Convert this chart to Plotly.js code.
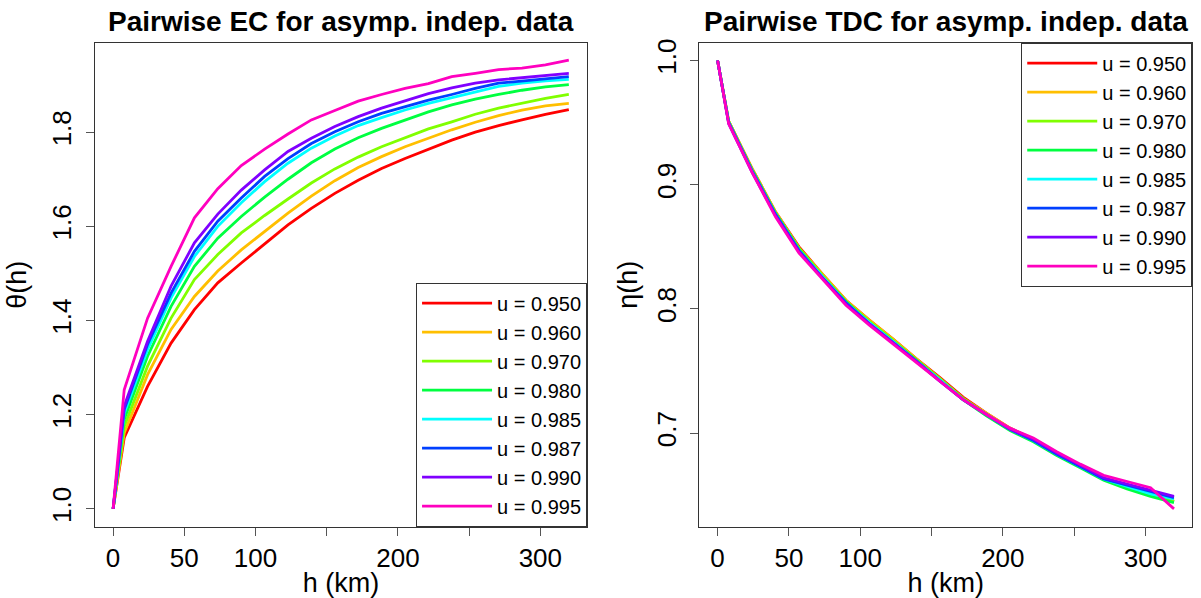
<!DOCTYPE html>
<html>
<head>
<meta charset="utf-8">
<script src="https://cdn.plot.ly/plotly-3.0.1.min.js"></script>
<style>html,body{margin:0;padding:0;background:#fff;}#chart{width:1201px;height:598px;}</style>
</head>
<body>
<div id="chart"></div>
<script>
// distance bins (km)
const h = [0, 7.8, 24.2, 40.7, 57.1, 73.5, 90, 106.4, 122.8, 139.2, 155.7, 172.1, 188.5, 205, 221.4, 237.8, 254.3, 270.7, 287.1, 303.6, 320];

const seriesNames = ["u = 0.950", "u = 0.960", "u = 0.970", "u = 0.980", "u = 0.985", "u = 0.987", "u = 0.990", "u = 0.995"];
const seriesColors = ["#FF0000", "#FFBF00", "#80FF00", "#00FF40", "#00FFFF", "#0040FF", "#8000FF", "#FF00BF"];

// Pairwise extremal coefficient theta(h)
const ec_u950 = [1.0, 1.151, 1.260, 1.352, 1.423, 1.480, 1.522, 1.562, 1.603, 1.638, 1.670, 1.698, 1.723, 1.744, 1.764, 1.783, 1.800, 1.814, 1.826, 1.838, 1.848];
const ec_u960 = [1.0, 1.161, 1.285, 1.381, 1.451, 1.505, 1.550, 1.589, 1.628, 1.664, 1.697, 1.725, 1.748, 1.769, 1.787, 1.805, 1.821, 1.835, 1.847, 1.856, 1.861];
const ec_u970 = [1.0, 1.175, 1.303, 1.405, 1.487, 1.540, 1.586, 1.623, 1.658, 1.692, 1.722, 1.747, 1.769, 1.788, 1.807, 1.822, 1.838, 1.851, 1.861, 1.872, 1.880];
const ec_u980 = [1.0, 1.190, 1.324, 1.430, 1.515, 1.575, 1.621, 1.662, 1.700, 1.735, 1.764, 1.788, 1.808, 1.826, 1.843, 1.858, 1.870, 1.880, 1.889, 1.896, 1.901];
const ec_u985 = [1.0, 1.203, 1.338, 1.448, 1.536, 1.600, 1.650, 1.695, 1.734, 1.766, 1.792, 1.814, 1.831, 1.847, 1.861, 1.873, 1.886, 1.897, 1.904, 1.909, 1.912];
const ec_u987 = [1.0, 1.211, 1.349, 1.458, 1.547, 1.611, 1.660, 1.706, 1.744, 1.776, 1.801, 1.822, 1.840, 1.854, 1.868, 1.880, 1.893, 1.904, 1.909, 1.914, 1.918];
const ec_u990 = [1.0, 1.218, 1.356, 1.473, 1.565, 1.626, 1.677, 1.720, 1.759, 1.787, 1.812, 1.833, 1.851, 1.866, 1.882, 1.894, 1.904, 1.911, 1.916, 1.921, 1.925];
const ec_u995 = [1.0, 1.253, 1.405, 1.515, 1.618, 1.680, 1.729, 1.764, 1.796, 1.826, 1.846, 1.866, 1.880, 1.893, 1.903, 1.918, 1.925, 1.933, 1.936, 1.943, 1.953];

// Pairwise tail dependence coefficient eta(h)
const tdc_u950 = [1.0, 0.951, 0.913, 0.878, 0.850, 0.828, 0.807, 0.791, 0.776, 0.760, 0.745, 0.729, 0.716, 0.704, 0.695, 0.684, 0.674, 0.663, 0.657, 0.651, 0.645];
const tdc_u960 = [1.0, 0.951, 0.913, 0.878, 0.849, 0.828, 0.807, 0.791, 0.776, 0.760, 0.744, 0.728, 0.716, 0.704, 0.695, 0.684, 0.674, 0.663, 0.657, 0.651, 0.646];
const tdc_u970 = [1.0, 0.951, 0.912, 0.877, 0.849, 0.827, 0.806, 0.790, 0.775, 0.759, 0.744, 0.728, 0.715, 0.703, 0.694, 0.683, 0.673, 0.663, 0.656, 0.650, 0.645];
const tdc_u980 = [1.0, 0.950, 0.912, 0.877, 0.848, 0.826, 0.806, 0.789, 0.774, 0.759, 0.743, 0.727, 0.714, 0.702, 0.693, 0.682, 0.672, 0.662, 0.655, 0.649, 0.644];
const tdc_u985 = [1.0, 0.950, 0.911, 0.876, 0.847, 0.826, 0.805, 0.789, 0.774, 0.758, 0.743, 0.727, 0.715, 0.703, 0.694, 0.683, 0.673, 0.663, 0.657, 0.651, 0.647];
const tdc_u987 = [1.0, 0.950, 0.911, 0.876, 0.847, 0.825, 0.805, 0.788, 0.773, 0.758, 0.742, 0.727, 0.715, 0.703, 0.694, 0.683, 0.673, 0.663, 0.658, 0.653, 0.648];
const tdc_u990 = [1.0, 0.949, 0.910, 0.875, 0.846, 0.825, 0.804, 0.788, 0.773, 0.758, 0.742, 0.727, 0.715, 0.703, 0.695, 0.684, 0.674, 0.664, 0.659, 0.654, 0.649];
const tdc_u995 = [1.0, 0.949, 0.910, 0.874, 0.845, 0.824, 0.803, 0.787, 0.772, 0.757, 0.742, 0.727, 0.715, 0.704, 0.696, 0.685, 0.675, 0.666, 0.661, 0.656, 0.639];

const xTickVals = [0, 50, 100, 150, 200, 250, 300];
const xTickText = ["0", "50", "100", "", "200", "", "300"];
const ecTickVals = [1.0, 1.2, 1.4, 1.6, 1.8];
const ecTickText = ["1.0", "1.2", "1.4", "1.6", "1.8"];
const tdcTickVals = [0.7, 0.8, 0.9, 1.0];
const tdcTickText = ["0.7", "0.8", "0.9", "1.0"];

const leftTitle = "Pairwise EC for asymp. indep. data";
const rightTitle = "Pairwise TDC for asymp. indep. data";
const xLabel = "h (km)";
const ecLabel = "θ(h)";
const tdcLabel = "η(h)";

const ecSeries = [ec_u950, ec_u960, ec_u970, ec_u980, ec_u985, ec_u987, ec_u990, ec_u995];
const tdcSeries = [tdc_u950, tdc_u960, tdc_u970, tdc_u980, tdc_u985, tdc_u987, tdc_u990, tdc_u995];

const FONT = "Liberation Sans, Arial, Helvetica, sans-serif";
const traces = [];
ecSeries.forEach((ys, i) => {
  traces.push({x: h, y: ys, type: "scatter", mode: "lines", name: seriesNames[i],
    line: {color: seriesColors[i], width: 2.8}, xaxis: "x", yaxis: "y", legend: "legend"});
});
tdcSeries.forEach((ys, i) => {
  traces.push({x: h, y: ys, type: "scatter", mode: "lines", name: seriesNames[i],
    line: {color: seriesColors[i], width: 2.8}, xaxis: "x2", yaxis: "y2", legend: "legend2"});
});

const axisCommon = {
  showgrid: false, zeroline: false, showline: true, mirror: true,
  linecolor: "#333", linewidth: 1, ticks: "outside", ticklen: 8, tickcolor: "#555", tickwidth: 1,
  tickfont: {family: FONT, size: 26, color: "#000"}
};
const xCommon = Object.assign({}, axisCommon, {
  range: [-12.8, 332.8], tickmode: "array", tickvals: xTickVals, ticktext: xTickText,
  title: {text: xLabel, font: {family: FONT, size: 27, color: "#000"}, standoff: 6}
});

const legendCommon = {
  bgcolor: "#fff", bordercolor: "#333", borderwidth: 1,
  font: {family: FONT, size: 20, color: "#000"}, itemwidth: 70, tracegroupgap: 0,
  xref: "paper", yref: "paper", itemclick: false, itemdoubleclick: false
};

const layout = {
  width: 1201, height: 598,
  margin: {l: 0, r: 0, t: 0, b: 0},
  paper_bgcolor: "#fff", plot_bgcolor: "#fff",
  font: {family: FONT, color: "#000"},
  xaxis: Object.assign({}, xCommon, {domain: [0.0790, 0.4888], anchor: "y"}),
  xaxis2: Object.assign({}, xCommon, {domain: [0.5823, 0.9927], anchor: "y2"}),
  yaxis: Object.assign({}, axisCommon, {domain: [0.1192, 0.9286], anchor: "x",
    range: [0.962, 1.990], tickmode: "array", tickvals: ecTickVals, ticktext: ecTickText, tickangle: -90,
    ticklabelstandoff: 4,
    title: {text: ecLabel, font: {family: FONT, size: 27, color: "#000"}, standoff: 13}}),
  yaxis2: Object.assign({}, axisCommon, {domain: [0.1192, 0.9286], anchor: "x2",
    range: [0.6246, 1.0144], tickmode: "array", tickvals: tdcTickVals, ticktext: tdcTickText, tickangle: -90,
    ticklabelstandoff: 4,
    title: {text: tdcLabel, font: {family: FONT, size: 27, color: "#000"}, standoff: 6}}),
  legend: Object.assign({}, legendCommon, {x: 0.4888, xanchor: "right", y: 0.1192, yanchor: "bottom"}),
  legend2: Object.assign({}, legendCommon, {x: 0.9927, xanchor: "right", y: 0.9286, yanchor: "top"}),
  annotations: [
    {text: "<b>" + leftTitle + "</b>", xref: "x domain", yref: "paper", x: 0.5, y: 0.9637,
     xanchor: "center", yanchor: "middle", showarrow: false, font: {family: FONT, size: 28, color: "#000"}},
    {text: "<b>" + rightTitle + "</b>", xref: "x2 domain", yref: "paper", x: 0.5, y: 0.9637,
     xanchor: "center", yanchor: "middle", showarrow: false, font: {family: FONT, size: 28, color: "#000"}}
  ]
};

Plotly.newPlot("chart", traces, layout, {staticPlot: true, displayModeBar: false});
</script>
</body>
</html>
